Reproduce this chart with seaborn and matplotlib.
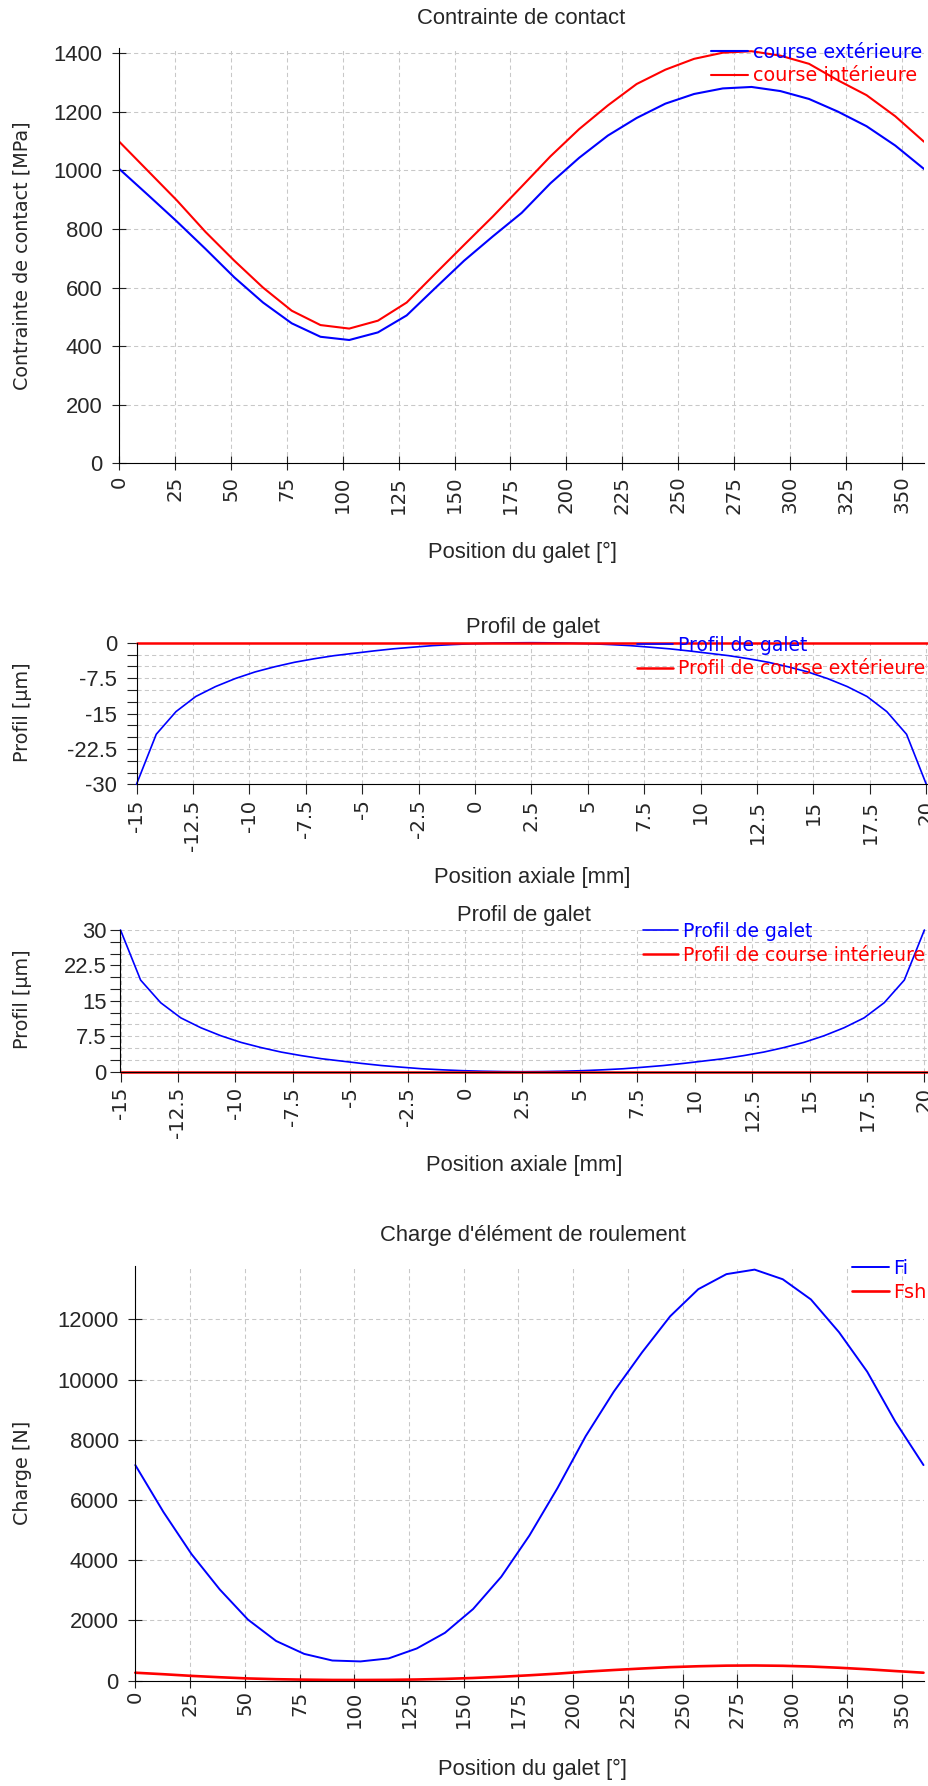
import matplotlib
matplotlib.use("Agg")
import matplotlib.pyplot as plt
import matplotlib.ticker as mticker
import seaborn as sns

# ---------------------------------------------------------------- data
# roller positions around the bearing [deg]
angles = [0.0, 12.86, 25.71, 38.57, 51.43, 64.29, 77.14, 90.0, 102.86, 115.71,
          128.57, 141.43, 154.29, 167.14, 180.0, 192.86, 205.71, 218.57, 231.43,
          244.29, 257.14, 270.0, 282.86, 295.71, 308.57, 321.43, 334.29, 347.14, 360.0]

# contact stress [MPa]
stress_outer = [1005, 916, 826, 732, 635, 549, 478, 432, 421, 447, 505, 599, 692,
                775, 855, 956, 1043, 1119, 1179, 1228, 1261, 1280, 1285, 1271,
                1244, 1201, 1151, 1085, 1005]
stress_inner = [1098, 998, 898, 790, 692, 600, 521, 472, 460, 487, 549, 648, 746,
                843, 945, 1048, 1141, 1222, 1295, 1344, 1381, 1402, 1407, 1392,
                1364, 1308, 1257, 1185, 1098]

# rolling element loads [N]
load_fi = [7160, 5600, 4200, 3030, 2030, 1320, 890, 670, 640, 740, 1070, 1590,
           2380, 3450, 4820, 6400, 8120, 9600, 10900, 12100, 13000, 13500, 13650,
           13330, 12660, 11570, 10260, 8600, 7160]
load_fsh = [265, 215, 160, 115, 75, 50, 35, 25, 24, 28, 40, 60, 90, 130, 180, 235,
            300, 355, 405, 450, 480, 500, 505, 495, 470, 430, 380, 320, 265]

# axial positions along the roller [mm]
axial_pos = [-15.0, -14.125, -13.25, -12.375, -11.5, -10.625, -9.75, -8.875, -8.0,
             -7.125, -6.25, -5.375, -4.5, -3.625, -2.75, -1.875, -1.0, -0.125, 0.75,
             1.625, 2.5, 3.375, 4.25, 5.125, 6.0, 6.875, 7.75, 8.625, 9.5, 10.375,
             11.25, 12.125, 13.0, 13.875, 14.75, 15.625, 16.5, 17.375, 18.25,
             19.125, 20.0]

# roller profile seen from the outer race [um]
roller_vs_outer = [-30, -19.4, -14.6, -11.4, -9.3, -7.6, -6.2, -5.1, -4.15, -3.4,
                   -2.75, -2.25, -1.75, -1.3, -0.95, -0.62, -0.4, -0.22, -0.1, -0.03,
                   0, -0.03, -0.1, -0.22, -0.4, -0.62, -0.95, -1.3, -1.75, -2.25,
                   -2.75, -3.4, -4.15, -5.1, -6.2, -7.6, -9.3, -11.4, -14.6, -19.4, -30]
# roller profile seen from the inner race [um]
roller_vs_inner = [30, 19.4, 14.6, 11.4, 9.3, 7.6, 6.2, 5.1, 4.15, 3.4,
                   2.75, 2.25, 1.75, 1.3, 0.95, 0.62, 0.4, 0.22, 0.1, 0.03,
                   0, 0.03, 0.1, 0.22, 0.4, 0.62, 0.95, 1.3, 1.75, 2.25,
                   2.75, 3.4, 4.15, 5.1, 6.2, 7.6, 9.3, 11.4, 14.6, 19.4, 30]
# race profiles (flat)
race_pos = [-15.0, 20.15]
race_profile = [0.0, 0.0]

angle_ticks = [0, 25, 50, 75, 100, 125, 150, 175, 200, 225, 250, 275, 300, 325, 350]
axial_ticks = [-15, -12.5, -10, -7.5, -5, -2.5, 0, 2.5, 5, 7.5, 10, 12.5, 15, 17.5, 20]

# ---------------------------------------------------------------- style
sns.set_theme(style="white")
plt.rcParams["font.family"] = ["DejaVu Sans"]
plt.rcParams["axes.unicode_minus"] = False

W, H = 929, 1786
BLUE, RED = "#0000ff", "#ff0000"
GRID = "#c8c8c8"
NARROW = "Liberation Sans"

fig = plt.figure(figsize=(W / 100, H / 100), dpi=100)


def add_axes(left, right, top, bottom):
    return fig.add_axes([left / W, 1 - bottom / H, (right - left) / W, (bottom - top) / H])


def fy(px):
    return 1 - px / H


def style_axes(ax, tick_dir, tick_len, ypad, xpad):
    for s in ("top", "right"):
        ax.spines[s].set_visible(False)
    for s in ("left", "bottom"):
        ax.spines[s].set_color("black")
        ax.spines[s].set_linewidth(0.8)
    ax.tick_params(axis="both", which="both", direction=tick_dir, length=tick_len,
                   width=0.8, color="#222222", left=True, bottom=True)
    ax.tick_params(axis="y", which="major", pad=ypad, labelsize=15.8)
    ax.tick_params(axis="x", which="major", pad=xpad, labelsize=14.2, labelrotation=90)
    for lab in ax.get_yticklabels():
        lab.set_family(NARROW)
    ax.grid(True, which="major", color=GRID, linestyle=(0, (4, 3)), linewidth=0.75)
    ax.set_axisbelow(True)


def decorate(ax, title, title_xy, xlabel, xlabel_xy, ylabel, ylabel_y):
    ax.text(title_xy[0] / W, fy(title_xy[1]), title, transform=fig.transFigure,
            ha="center", va="center", fontsize=15.8, family=NARROW)
    ax.set_xlabel(xlabel, fontsize=15.8, family=NARROW, va="center")
    ax.xaxis.set_label_coords(xlabel_xy[0] / W, fy(xlabel_xy[1]), transform=fig.transFigure)
    ax.set_ylabel(ylabel, fontsize=13.8, va="center")
    ax.yaxis.set_label_coords(22.5 / W, fy(ylabel_y), transform=fig.transFigure)


def legend(ax, right_px, top_px, size=13.9):
    ax.legend(loc="upper right", bbox_to_anchor=(right_px / W, fy(top_px)),
              bbox_transform=fig.transFigure, frameon=False, borderpad=0,
              borderaxespad=0, handlelength=1.9, handletextpad=0.25,
              labelspacing=0.25, prop={"size": size, "family": "DejaVu Sans"},
              labelcolor="linecolor")


fmt = mticker.FuncFormatter(lambda v, _: f"{v:g}")

# ---------------------------------------------------------------- contact stress
ax1 = add_axes(119.3, 924, 48.3, 463.3)
sns.lineplot(x=angles, y=stress_outer, color=BLUE, lw=1.5, label="course extérieure",
             ax=ax1, sort=False, estimator=None)
sns.lineplot(x=angles, y=stress_inner, color=RED, lw=1.5, label="course intérieure",
             ax=ax1, sort=False, estimator=None)
ax1.set_xlim(0, 360)
ax1.set_ylim(0, 1417)
ax1.set_xticks(angle_ticks)
ax1.set_yticks([0, 200, 400, 600, 800, 1000, 1200, 1400])
ax1.xaxis.set_major_formatter(fmt)
style_axes(ax1, "inout", 10, 7, 4)
decorate(ax1, "Contrainte de contact", (521.5, 18), "Position du galet [°]", (523, 552),
         "Contrainte de contact [MPa]", 255.8)
legend(ax1, 922, 42.5)

# ---------------------------------------------------------------- outer race profile
ax2 = add_axes(136.5, 929, 642.7, 784.3)
sns.lineplot(x=axial_pos, y=roller_vs_outer, color=BLUE, lw=1.2, label="Profil de galet",
             ax=ax2, sort=False, estimator=None)
sns.lineplot(x=race_pos, y=race_profile, color=RED, lw=1.8, label="Profil de course extérieure",
             ax=ax2, sort=False, estimator=None)
ax2.set_xlim(-15, 20.12)
ax2.set_ylim(-30, 0)
ax2.set_xticks(axial_ticks)
ax2.set_yticks([-30, -22.5, -15, -7.5, 0])
ax2.yaxis.set_minor_locator(mticker.MultipleLocator(2.5))
ax2.xaxis.set_major_formatter(fmt)
ax2.yaxis.set_major_formatter(fmt)
style_axes(ax2, "out", 7, 7, 4)
ax2.grid(True, which="minor", axis="y", color=GRID, linestyle=(0, (4, 3)), linewidth=0.75)
decorate(ax2, "Profil de galet", (532.7, 627), "Position axiale [mm]", (532.7, 878),
         "Profil [µm]", 712)
legend(ax2, 925, 635.5, size=13.5)
for line in ax2.lines:
    line.set_clip_on(False)

# ---------------------------------------------------------------- inner race profile
ax3 = add_axes(120.5, 929, 930, 1071.7)
sns.lineplot(x=axial_pos, y=roller_vs_inner, color=BLUE, lw=1.2, label="Profil de galet",
             ax=ax3, sort=False, estimator=None)
sns.lineplot(x=race_pos, y=race_profile, color=RED, lw=1.8, label="Profil de course intérieure",
             ax=ax3, sort=False, estimator=None)
ax3.set_xlim(-15, 20.2)
ax3.set_ylim(0, 30)
ax3.set_xticks(axial_ticks)
ax3.set_yticks([0, 7.5, 15, 22.5, 30])
ax3.yaxis.set_minor_locator(mticker.MultipleLocator(2.5))
ax3.xaxis.set_major_formatter(fmt)
ax3.yaxis.set_major_formatter(fmt)
style_axes(ax3, "out", 7, 3, 4)
ax3.grid(True, which="minor", axis="y", color=GRID, linestyle=(0, (4, 3)), linewidth=0.75)
decorate(ax3, "Profil de galet", (523.8, 915), "Position axiale [mm]", (523.8, 1165),
         "Profil [µm]", 999)
legend(ax3, 925, 922, size=13.5)
for line in ax3.lines:
    line.set_clip_on(False)

# ---------------------------------------------------------------- rolling element loads
ax4 = add_axes(135.3, 923.5, 1266, 1680.7)
sns.lineplot(x=angles, y=load_fi, color=BLUE, lw=1.4, label="Fi",
             ax=ax4, sort=False, estimator=None)
sns.lineplot(x=angles, y=load_fsh, color=RED, lw=1.9, label="Fsh",
             ax=ax4, sort=False, estimator=None)
ax4.set_xlim(0, 360)
ax4.set_ylim(0, 13770)
ax4.set_xticks(angle_ticks)
ax4.set_yticks([0, 2000, 4000, 6000, 8000, 10000, 12000])
ax4.xaxis.set_major_formatter(fmt)
ax4.yaxis.set_major_formatter(fmt)
style_axes(ax4, "inout", 10, 7, 2)
decorate(ax4, "Charge d'élément de roulement", (532.7, 1236), "Position du galet [°]",
         (533, 1769), "Charge [N]", 1473)
legend(ax4, 927, 1259)
for line in ax4.lines:
    line.set_clip_on(False)

fig.savefig("out.png", dpi=100, facecolor="white")
